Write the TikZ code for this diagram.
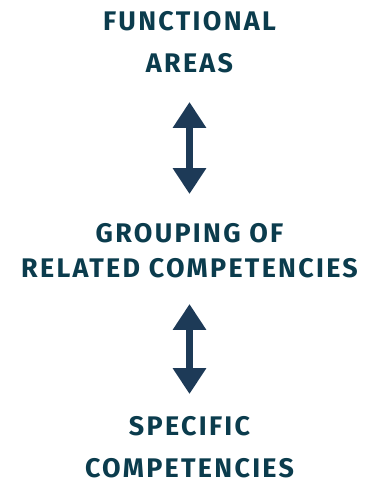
\documentclass[tikz,border=0pt]{standalone}
\usepackage{fontspec}
\setmainfont{Fira Sans}
\newfontfamily\levelfont{Fira Sans}[LetterSpace=8.5]
\usepackage{xcolor}
\usepackage{tikz}
\usetikzlibrary{positioning,arrows.meta}

\definecolor{textnavy}{HTML}{0B3C4D}
\definecolor{arrownavy}{HTML}{1D3A57}

\begin{document}
\begin{tikzpicture}[
    x=1pt, y=1pt,
    level/.style={inner sep=0pt, align=center, text=textnavy, font=\levelfont\bfseries\fontsize{26.9}{42}\selectfont},
    tight/.style={font=\levelfont\bfseries\fontsize{26.9}{35}\selectfont},
    twoway/.style={{Triangle[width=32pt,length=26pt]}-{Triangle[width=32pt,length=26pt]}, line width=7pt, draw=arrownavy},
]
\useasboundingbox (0,0) rectangle (373,481);

\node[level, anchor=south] (areas) at (189.5,408) {FUNCTIONAL\\AREAS};
\node[level, tight, anchor=south] (group) at (189.5,203) {GROUPING OF\\RELATED COMPETENCIES};
\node[level, anchor=south] (specific) at (189.5,3) {SPECIFIC\\COMPETENCIES};

\draw[twoway, shorten <=29pt, shorten >=29pt] (areas) -- (group);
\draw[twoway, shorten <=26pt, shorten >=22pt] (group) -- (specific);

\end{tikzpicture}
\end{document}
